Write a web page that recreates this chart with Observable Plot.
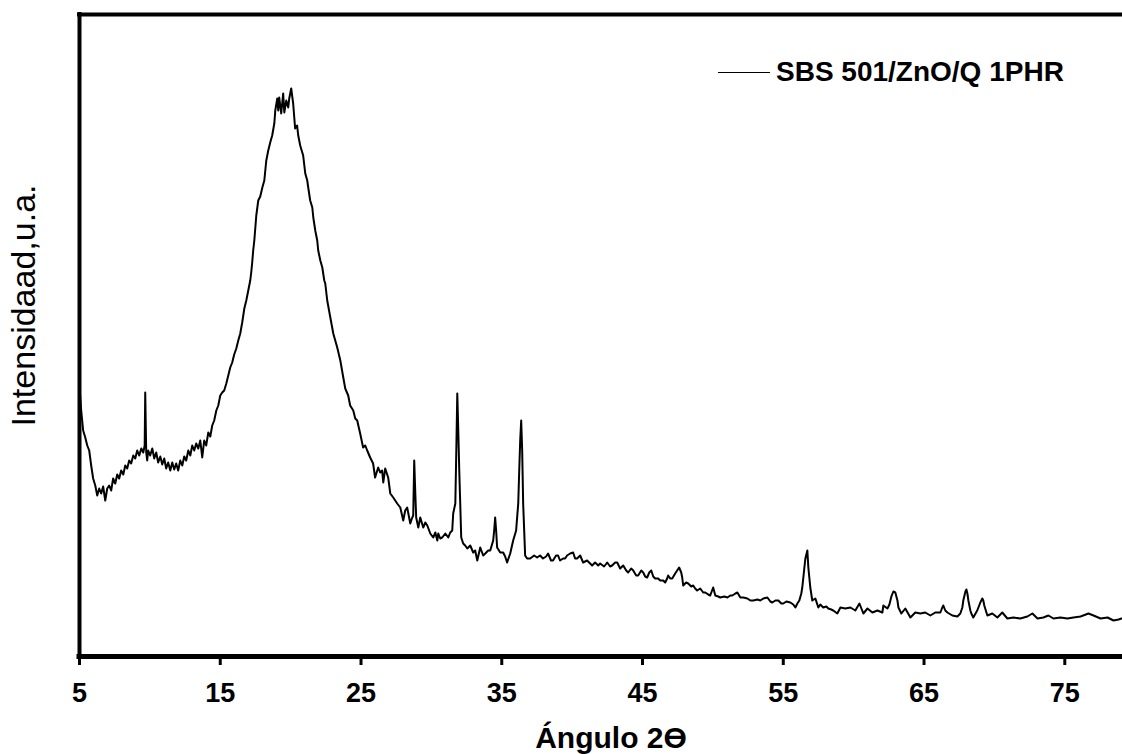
<!DOCTYPE html>
<html>
<head>
<meta charset="utf-8">
<script src="https://cdn.jsdelivr.net/npm/d3@7"></script>
<script src="https://cdn.jsdelivr.net/npm/@observablehq/plot@0.6"></script>
<style>
  html, body { margin: 0; padding: 0; background: #fff; overflow: hidden; }
  #wrap { position: relative; width: 1122px; height: 754px; }
  #legend { position: absolute; left: 718px; top: 58px; display: flex; align-items: center;
            font-family: "Liberation Sans", Arial, sans-serif; font-size: 28px; line-height: 28px; font-weight: bold; color: #000; white-space: nowrap; }
  #legend .sw { display: inline-block; width: 52px; height: 0; border-top: 1.8px solid #000; margin-right: 6px; }
</style>
</head>
<body>
<div id="wrap"><div id="legend"><span class="sw"></span><span id="legtext"></span></div></div>
<script>
const seriesName = "SBS 501/ZnO/Q 1PHR";
const xLabel = "Ángulo 2ϴ";
const yLabel = "Intensidaad,u.a.";
const xTicks = [5, 15, 25, 35, 45, 55, 65, 75];

const angle = [
5.01,5.12,5.26,5.41,5.55,5.69,5.83,5.97,6.12,6.26,6.40,6.54,6.68,6.83,6.97,7.11,7.25,7.39,7.54,7.68,
7.82,7.96,8.11,8.25,8.39,8.53,8.67,8.82,8.96,9.10,9.24,9.39,9.53,9.63,9.67,9.74,9.81,9.88,10.02,10.17,
10.31,10.45,10.59,10.74,10.88,11.02,11.16,11.30,11.45,11.59,11.73,11.87,12.01,12.16,12.30,12.44,12.58,12.73,12.87,13.01,
13.15,13.29,13.44,13.58,13.72,13.86,14.00,14.15,14.29,14.43,14.57,14.72,14.86,15.00,15.14,15.28,15.43,15.57,15.71,15.85,
15.99,16.14,16.28,16.42,16.56,16.71,16.85,16.99,17.13,17.20,17.27,17.34,17.42,17.56,17.70,17.84,17.99,18.13,18.27,18.41,
18.55,18.69,18.84,18.91,19.05,19.12,19.19,19.33,19.47,19.55,19.69,19.83,19.90,20.04,20.18,20.32,20.46,20.54,20.68,20.89,
21.04,21.18,21.25,21.39,21.54,21.61,21.75,21.89,21.96,22.11,22.25,22.39,22.46,22.60,22.82,23.03,23.17,23.31,23.53,23.74,
23.88,24.09,24.23,24.45,24.59,24.73,24.94,25.15,25.30,25.44,25.65,25.86,26.00,26.22,26.36,26.50,26.58,26.72,26.93,27.08,
27.29,27.43,27.57,27.79,28.00,28.14,28.28,28.50,28.64,28.71,28.78,28.85,28.92,29.07,29.21,29.42,29.57,29.71,29.92,30.13,
30.28,30.42,30.49,30.63,30.77,30.99,31.20,31.34,31.48,31.55,31.70,31.77,31.84,31.91,31.98,32.12,32.26,32.40,32.55,32.76,
32.97,33.11,33.26,33.47,33.68,33.83,34.04,34.18,34.39,34.46,34.53,34.60,34.67,34.89,35.10,35.24,35.38,35.60,35.81,36.02,
36.17,36.24,36.31,36.38,36.45,36.52,36.66,36.80,37.02,37.30,37.51,37.72,37.93,38.15,38.29,38.50,38.64,38.86,39.00,39.14,
39.36,39.50,39.64,39.86,40.07,40.21,40.35,40.57,40.78,41.06,41.28,41.42,41.63,41.85,41.99,42.27,42.49,42.70,42.84,43.06,
43.20,43.41,43.63,43.84,43.98,44.19,44.34,44.55,44.69,44.91,45.05,45.19,45.33,45.48,45.62,45.76,45.90,46.11,46.26,46.47,
46.61,46.75,46.82,46.97,47.11,47.32,47.46,47.60,47.75,47.82,47.89,48.10,48.25,48.46,48.60,48.74,48.88,49.10,49.31,49.46,
49.67,49.81,50.02,50.17,50.38,50.52,50.81,51.03,51.24,51.38,51.60,51.74,51.95,52.16,52.45,52.66,52.87,53.16,53.37,53.58,
53.87,54.08,54.22,54.44,54.65,54.86,55.00,55.22,55.50,55.71,55.86,56.00,56.14,56.28,56.35,56.50,56.57,56.71,56.78,56.92,
57.06,57.28,57.49,57.63,57.84,58.06,58.20,58.41,58.55,58.84,59.06,59.41,59.77,60.12,60.41,60.69,60.98,61.33,61.69,62.04,
62.11,62.40,62.54,62.68,62.82,62.96,63.11,63.18,63.39,63.67,64.03,64.38,64.74,65.09,65.45,65.80,66.16,66.30,66.37,66.51,
66.66,67.01,67.37,67.58,67.72,67.79,67.94,68.01,68.08,68.15,68.29,68.36,68.50,68.78,69.00,69.14,69.21,69.28,69.50,69.85,
70.21,70.56,70.92,71.35,71.84,72.34,72.70,73.06,73.48,73.84,74.19,74.69,75.19,75.62,76.12,76.68,77.04,77.54,78.04,78.46,
78.82,79.03
];

const intensity = [
268,246,226,219,211,206,191,178,171,161,168,163,170,156,168,171,166,178,173,182,
178,186,182,191,188,196,193,201,198,206,201,208,204,211,264,204,196,206,201,208,
198,204,194,200,192,198,188,194,186,194,187,193,186,196,191,200,196,206,201,211,
206,213,208,216,199,216,211,224,220,231,236,246,251,261,264,266,273,281,289,294,
302,308,316,323,334,348,356,366,376,384,394,406,416,441,456,460,469,476,496,506,
514,521,533,546,558,546,559,543,563,544,556,549,558,568,553,528,531,521,511,501,
483,476,469,456,449,439,426,416,406,396,389,376,373,356,339,323,316,309,296,279,
268,261,251,246,238,236,223,209,211,206,199,193,179,189,184,186,174,188,179,163,
159,156,153,149,136,146,149,133,139,141,196,166,139,129,139,129,134,131,123,119,
124,116,123,118,119,123,119,124,126,143,153,206,263,226,186,119,113,111,108,111,
104,106,96,109,101,103,106,106,116,126,139,126,109,104,104,100,94,103,116,126,
153,186,216,236,206,153,101,98,98,101,99,101,98,100,103,96,96,101,101,96,
98,98,101,103,104,98,98,101,94,96,93,91,94,91,93,90,94,90,91,94,
94,88,91,86,84,88,86,81,81,86,84,80,79,84,86,80,78,78,76,76,
74,78,81,78,78,83,86,89,84,79,71,74,73,70,71,68,66,68,64,64,
62,61,69,61,60,59,60,59,61,61,63,64,59,59,58,56,56,57,56,58,
59,55,54,56,56,53,53,55,54,52,49,53,56,63,69,89,98,106,89,69,
56,58,49,52,49,50,48,47,46,43,49,48,49,46,53,43,48,44,46,44,
51,48,52,60,65,64,56,49,43,48,39,44,43,44,41,44,44,49,51,46,
44,41,40,43,49,56,65,67,63,56,46,43,39,46,54,58,56,51,41,43,
39,44,38,39,38,40,43,38,39,41,38,39,38,39,40,43,41,38,39,36,
37,38
];

const data = angle.map((a, i) => ({angle: a, intensity: intensity[i]}));
document.getElementById("legtext").textContent = seriesName;

const font = "'Liberation Sans', Arial, sans-serif";
const chart = Plot.plot({
  width: 1122,
  height: 754,
  marginLeft: 79,
  marginRight: 0,
  marginTop: 14,
  marginBottom: 98,
  style: {fontFamily: font, color: "#000", background: "#fff", overflow: "visible"},
  x: {domain: [5, 79.1]},
  y: {domain: [0, 642], axis: null},
  marks: [
    Plot.line(data, {x: "angle", y: "intensity", stroke: "#000", strokeWidth: 2, strokeLinejoin: "round"}),
    Plot.ruleY([0], {stroke: "#000", strokeWidth: 5, strokeLinecap: "square"}),
    Plot.ruleY([642], {stroke: "#000", strokeWidth: 4, strokeLinecap: "square"}),
    Plot.ruleX([5], {stroke: "#000", strokeWidth: 4, strokeLinecap: "square"}),
    Plot.axisX({ticks: xTicks, tickSize: 9, tickPadding: 17, strokeWidth: 3, fontSize: 27, fontWeight: "bold", label: null, tickFormat: d => String(d)}),
    Plot.text([xLabel], {text: d => d, frameAnchor: "bottom", textAnchor: "middle", dx: 10, dy: 91, fontSize: 30, fontWeight: "bold", fill: "#000"}),
    Plot.text([yLabel], {text: d => d, frameAnchor: "left", textAnchor: "middle", rotate: -90, dx: -55, dy: -30, fontSize: 34, fill: "#000"})
  ]
});
document.getElementById("wrap").prepend(chart);
</script>
</body>
</html>
